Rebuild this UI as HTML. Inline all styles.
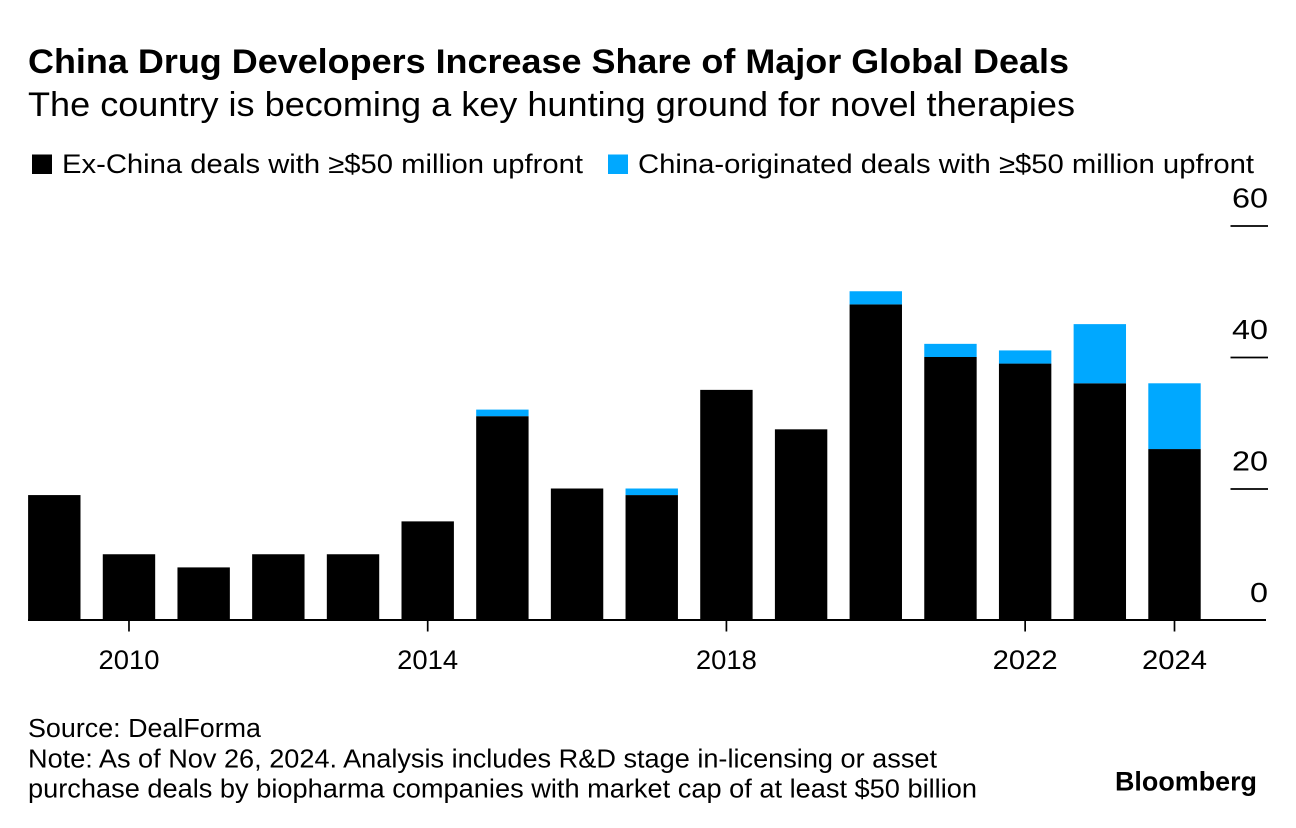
<!DOCTYPE html>
<html>
<head>
<meta charset="utf-8">
<title>China Drug Developers Increase Share of Major Global Deals</title>
<style>
html,body{margin:0;padding:0;background:#fff;}
svg{display:block;}
text{font-family:"Liberation Sans",sans-serif;fill:#000;}
</style>
</head>
<body>
<svg id="chart" width="1296" height="828" viewBox="0 0 1296 828" xmlns="http://www.w3.org/2000/svg">
  <rect x="0" y="0" width="1296" height="828" fill="#fff"/>
  <text x="28" y="73" font-size="34.5" font-weight="700" textLength="1041" lengthAdjust="spacingAndGlyphs">China Drug Developers Increase Share of Major Global Deals</text>
  <text x="28" y="116" font-size="34" textLength="1047" lengthAdjust="spacingAndGlyphs">The country is becoming a key hunting ground for novel therapies</text>
  <rect x="32" y="154.5" width="20" height="19.5" fill="#000"/>
  <text x="62" y="173" font-size="27" textLength="521" lengthAdjust="spacingAndGlyphs">Ex-China deals with ≥$50 million upfront</text>
  <rect x="608" y="154.5" width="20" height="19.5" fill="#00a8ff"/>
  <text x="638" y="173" font-size="27" textLength="616" lengthAdjust="spacingAndGlyphs">China-originated deals with ≥$50 million upfront</text>
  <g id="bars"></g>
  <g id="y-axis"></g>
  <g id="x-axis"></g>
  <text x="28" y="737" font-size="25.5" textLength="233" lengthAdjust="spacingAndGlyphs">Source: DealForma</text>
  <text x="28" y="767.5" font-size="25.5" textLength="909" lengthAdjust="spacingAndGlyphs">Note: As of Nov 26, 2024. Analysis includes R&amp;D stage in-licensing or asset</text>
  <text x="28" y="797.5" font-size="25.5" textLength="949" lengthAdjust="spacingAndGlyphs">purchase deals by biopharma companies with market cap of at least $50 billion</text>
  <text x="1115" y="790.5" font-size="26.5" font-weight="700" textLength="142" lengthAdjust="spacingAndGlyphs">Bloomberg</text>
</svg>
<script>
const years = [2009,2010,2011,2012,2013,2014,2015,2016,2017,2018,2019,2020,2021,2022,2023,2024];
const exChina = [19,10,8,10,10,15,31,20,19,35,29,48,40,39,36,26];
const china = [0,0,0,0,0,0,1,0,1,0,0,2,2,2,9,10];
const yTicks = [0,20,40,60];
const xTickYears = [2010,2014,2018,2022,2024];

const NS = 'http://www.w3.org/2000/svg';
const baseY = 620;
const unitY = 6.575;
const firstCenter = 54.3;
const stepX = 74.68;
const barW = 52.4;
function yPos(v){ return baseY - v * unitY; }
function xPos(year){ return firstCenter + (year - years[0]) * stepX; }
function make(tag, parent){
  const el = document.createElementNS(NS, tag);
  parent.appendChild(el);
  return el;
}
const barsG = document.getElementById('bars');
const yG = document.getElementById('y-axis');
const xG = document.getElementById('x-axis');

years.forEach(function(year, i){
  const x = xPos(year) - barW / 2;
  const lower = make('rect', barsG);
  
  
  lower.setAttribute('x', x);
  lower.setAttribute('y', yPos(exChina[i]));
  lower.setAttribute('width', barW);
  lower.setAttribute('height', baseY - yPos(exChina[i]));
  lower.setAttribute('fill', '#000');
  if (china[i] > 0) {
    const upper = make('rect', barsG);
    
    
    upper.setAttribute('x', x);
    upper.setAttribute('y', yPos(exChina[i] + china[i]));
    upper.setAttribute('width', barW);
    upper.setAttribute('height', china[i] * unitY);
    upper.setAttribute('fill', '#00a8ff');
  }
});

yTicks.forEach(function(v){
  const label = make('text', yG);
  
  
  label.setAttribute('x', 1268);
  label.setAttribute('y', yPos(v) - 18);
  label.setAttribute('text-anchor', 'end');
  label.setAttribute('font-size', '28');
  label.setAttribute('textLength', String(v).length * 18);
  label.setAttribute('lengthAdjust', 'spacingAndGlyphs');
  label.textContent = v;
  if (v !== 0) {
    const line = make('line', yG);
    
    
    line.setAttribute('x1', 1230.5);
    line.setAttribute('x2', 1268);
    line.setAttribute('y1', yPos(v) + 0.5);
    line.setAttribute('y2', yPos(v) + 0.5);
    line.setAttribute('stroke', '#000');
    line.setAttribute('stroke-width', '1.8');
  }
});

const axisLine = make('line', xG);


axisLine.setAttribute('x1', 28);
axisLine.setAttribute('x2', 1266);
axisLine.setAttribute('y1', baseY);
axisLine.setAttribute('y2', baseY);
axisLine.setAttribute('stroke', '#000');
axisLine.setAttribute('stroke-width', '2');

xTickYears.forEach(function(year){
  const tick = make('line', xG);
  
  
  tick.setAttribute('x1', xPos(year));
  tick.setAttribute('x2', xPos(year));
  tick.setAttribute('y1', baseY);
  tick.setAttribute('y2', baseY + 11.5);
  tick.setAttribute('stroke', '#000');
  tick.setAttribute('stroke-width', '1.7');
  const label = make('text', xG);
  
  
  label.setAttribute('x', xPos(year));
  label.setAttribute('y', 669);
  label.setAttribute('text-anchor', 'middle');
  label.setAttribute('font-size', '27');
  label.setAttribute('textLength', String(year).indexOf('1') >= 0 ? 61 : 65);
  label.setAttribute('lengthAdjust', 'spacingAndGlyphs');
  label.textContent = year;
});
</script>
</body>
</html>
